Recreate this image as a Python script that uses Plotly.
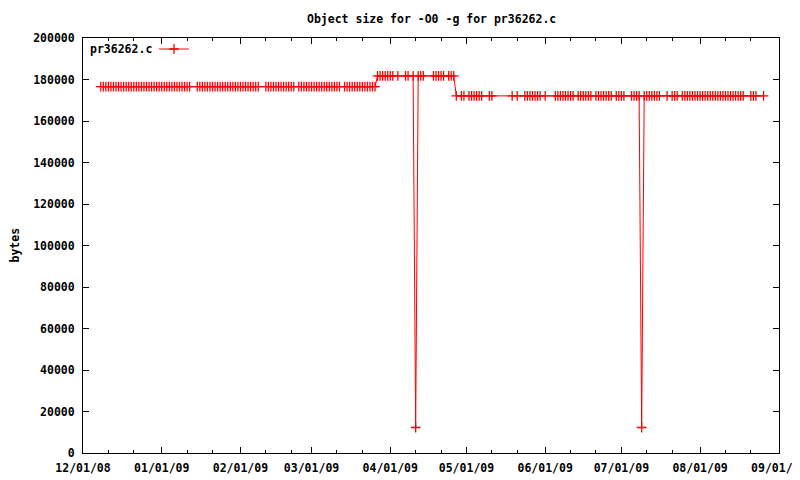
import plotly.graph_objects as go

# ---------------- data ----------------
# plateau 1: ~176600 bytes
dates_p1 = [
    "2008-12-08", "2008-12-09", "2008-12-10", "2008-12-11", "2008-12-12", "2008-12-13",
    "2008-12-14", "2008-12-15", "2008-12-16", "2008-12-17", "2008-12-18", "2008-12-19",
    "2008-12-20", "2008-12-21", "2008-12-22", "2008-12-23", "2008-12-24", "2008-12-25",
    "2008-12-26", "2008-12-27", "2008-12-28", "2008-12-29", "2008-12-30", "2008-12-31",
    "2009-01-01", "2009-01-02", "2009-01-03", "2009-01-04", "2009-01-05", "2009-01-06",
    "2009-01-07", "2009-01-08", "2009-01-09", "2009-01-10", "2009-01-11", "2009-01-12",
    "2009-01-15", "2009-01-16", "2009-01-17", "2009-01-18", "2009-01-19", "2009-01-20",
    "2009-01-21", "2009-01-22", "2009-01-23", "2009-01-24", "2009-01-25", "2009-01-26",
    "2009-01-27", "2009-01-28", "2009-01-29", "2009-01-30", "2009-01-31",
    "2009-02-01", "2009-02-02", "2009-02-03", "2009-02-04", "2009-02-05", "2009-02-06",
    "2009-02-07", "2009-02-08",
    "2009-02-11", "2009-02-12", "2009-02-13", "2009-02-14", "2009-02-15", "2009-02-16",
    "2009-02-17", "2009-02-18", "2009-02-19", "2009-02-20", "2009-02-21", "2009-02-22",
    "2009-02-24", "2009-02-25", "2009-02-26", "2009-02-27", "2009-02-28",
    "2009-03-01", "2009-03-02", "2009-03-03", "2009-03-04", "2009-03-05", "2009-03-06",
    "2009-03-07", "2009-03-08", "2009-03-09", "2009-03-10", "2009-03-11", "2009-03-12",
    "2009-03-14", "2009-03-15", "2009-03-16", "2009-03-17", "2009-03-18", "2009-03-19",
    "2009-03-20", "2009-03-21", "2009-03-22", "2009-03-23", "2009-03-24", "2009-03-25",
    "2009-03-26",
]
size_p1 = 176600

# plateau 2: ~181700 bytes, with one dip
dates_p2 = [
    "2009-03-27", "2009-03-28", "2009-03-29", "2009-03-30", "2009-03-31",
    "2009-04-01", "2009-04-02", "2009-04-04", "2009-04-07", "2009-04-08", "2009-04-10",
    "2009-04-11",
    "2009-04-12", "2009-04-13", "2009-04-14",
    "2009-04-18", "2009-04-19", "2009-04-20", "2009-04-21", "2009-04-22",
    "2009-04-24", "2009-04-25", "2009-04-26",
]
size_p2 = 181700

# plateau 3: ~172100 bytes, with one dip
dates_p3 = [
    "2009-04-27", "2009-04-29", "2009-04-30",
    "2009-05-02", "2009-05-03", "2009-05-04", "2009-05-05", "2009-05-06", "2009-05-07",
    "2009-05-10", "2009-05-11", "2009-05-19", "2009-05-21",
    "2009-05-24", "2009-05-25", "2009-05-26", "2009-05-27", "2009-05-28", "2009-05-29",
    "2009-05-30", "2009-06-01",
    "2009-06-05", "2009-06-06", "2009-06-07", "2009-06-08", "2009-06-09", "2009-06-10",
    "2009-06-11", "2009-06-12", "2009-06-14", "2009-06-15", "2009-06-16", "2009-06-17",
    "2009-06-18", "2009-06-19", "2009-06-21", "2009-06-22", "2009-06-23", "2009-06-24",
    "2009-06-25", "2009-06-26", "2009-06-27",
    "2009-06-29", "2009-06-30", "2009-07-01", "2009-07-02",
    "2009-07-05", "2009-07-06", "2009-07-07", "2009-07-08",
    "2009-07-09",
    "2009-07-10", "2009-07-11", "2009-07-12", "2009-07-13", "2009-07-14", "2009-07-15",
    "2009-07-16", "2009-07-19", "2009-07-21", "2009-07-22", "2009-07-23",
    "2009-07-25", "2009-07-26", "2009-07-27", "2009-07-28", "2009-07-29", "2009-07-30",
    "2009-07-31", "2009-08-01", "2009-08-02", "2009-08-03", "2009-08-04", "2009-08-05",
    "2009-08-06", "2009-08-07", "2009-08-08", "2009-08-09", "2009-08-10", "2009-08-11",
    "2009-08-12", "2009-08-13", "2009-08-14", "2009-08-15", "2009-08-16", "2009-08-17",
    "2009-08-18", "2009-08-21", "2009-08-22", "2009-08-23", "2009-08-26",
]
size_p3 = 172100

# the two outlier builds
dip_dates = ["2009-04-11", "2009-07-09"]
dip_size = 12300

x_ticks = ["2008-12-01", "2009-01-01", "2009-02-01", "2009-03-01", "2009-04-01",
           "2009-05-01", "2009-06-01", "2009-07-01", "2009-08-01", "2009-09-01"]
x_ticktext = ["12/01/08", "01/01/09", "02/01/09", "03/01/09", "04/01/09",
              "05/01/09", "06/01/09", "07/01/09", "08/01/09", "09/01/09"]

# ---------------- assemble series ----------------
xs, ys = [], []
for dates, size in ((dates_p1, size_p1), (dates_p2, size_p2), (dates_p3, size_p3)):
    for d in dates:
        xs.append(d)
        ys.append(dip_size if d in dip_dates else size)

minor_vals = []
for m in x_ticks[:-1]:
    minor_vals.append(m[:8] + "11")
    minor_vals.append(m[:8] + "21")

FONT = "DejaVu Sans Mono"
fsize = 11.5
# the page body has an 8px margin; figure is sized so it ends at the window edge
W, H = 792, 472
L, R, T, B = 75, 21, 30, 27
PW, PH = W - L - R, H - T - B
OFF = 8


def px_x(px):  # page pixel -> paper coordinate
    return (px - OFF - L) / PW


def px_y(py):
    return (H - B - (py - OFF)) / PH


fig = go.Figure()
fig.add_trace(go.Scatter(
    x=xs, y=ys, mode="lines+markers", name="",
    line=dict(color="#ff0000", width=1),
    marker=dict(symbol="cross-thin", size=7, line=dict(color="#ff0000", width=1.3), color="#ff0000"),
    showlegend=True,
))

fig.update_layout(
    width=W, height=H,
    margin=dict(l=L, r=R, t=T, b=B, autoexpand=False),
    paper_bgcolor="white", plot_bgcolor="white",
    font=dict(family=FONT, size=fsize, color="black", weight="bold"),
    showlegend=True,
    legend=dict(
        x=px_x(154), y=px_y(49), xanchor="left", yanchor="middle",
        bgcolor="rgba(0,0,0,0)", borderwidth=0, itemwidth=30,
        font=dict(family=FONT, size=fsize),
    ),
    annotations=[
        dict(text="Object size for -O0 -g for pr36262.c", xref="paper", yref="paper",
             x=0.5, y=px_y(19), xanchor="center", yanchor="middle", showarrow=False,
             font=dict(family=FONT, size=fsize, weight="bold")),
        dict(text="bytes", textangle=-90, xref="paper", yref="paper",
             x=px_x(14), y=0.5, xanchor="center", yanchor="middle", showarrow=False,
             font=dict(family=FONT, size=fsize, weight="bold")),
        dict(text="pr36262.c", xref="paper", yref="paper",
             x=px_x(88), y=px_y(49), xanchor="left", yanchor="middle", showarrow=False,
             font=dict(family=FONT, size=fsize, weight="bold")),
    ],
)

fig.update_xaxes(
    type="date", range=["2008-12-01", "2009-09-01 02:00"], automargin=False,
    tickmode="array", tickvals=x_ticks, ticktext=x_ticktext,
    ticks="inside", ticklen=6, tickwidth=1, tickcolor="black",
    showline=True, linecolor="black", linewidth=1, mirror="allticks",
    showgrid=False, zeroline=False,
    minor=dict(tickmode="array", tickvals=minor_vals, ticks="inside", ticklen=3,
               tickcolor="black", showgrid=False),
    tickfont=dict(family=FONT, size=fsize, weight="bold"),
    ticklabelstandoff=4, ticklabeloverflow="allow",
)
fig.update_yaxes(
    range=[0, 200000], tick0=0, dtick=20000, tickformat="d", automargin=False,
    ticks="inside", ticklen=6, tickwidth=1, tickcolor="black",
    showline=True, linecolor="black", linewidth=1, mirror="allticks",
    showgrid=False, zeroline=False,
    tickfont=dict(family=FONT, size=fsize, weight="bold"),
    ticklabelstandoff=5,
)

fig.write_html("out.html")
